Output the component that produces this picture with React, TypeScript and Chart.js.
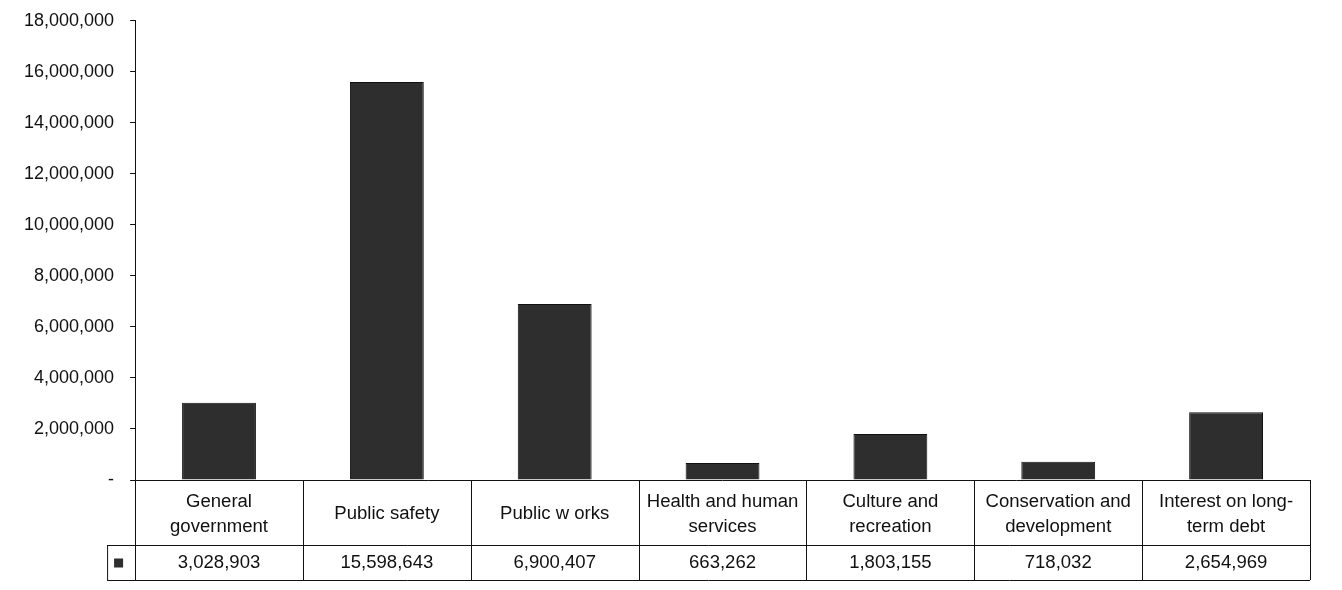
import React, { useEffect, useRef } from "react";
import { Chart, registerables } from "chart.js";

Chart.register(...registerables);

const categories: string[][] = [
  ["General", "government"],
  ["Public safety"],
  ["Public w orks"],
  ["Health and human", "services"],
  ["Culture and", "recreation"],
  ["Conservation and", "development"],
  ["Interest on long-", "term debt"],
];
const expenses: number[] = [3028903, 15598643, 6900407, 663262, 1803155, 718032, 2654969];
const yTicks: number[] = [0, 2000000, 4000000, 6000000, 8000000, 10000000, 12000000, 14000000, 16000000, 18000000];

const FONT = "'Liberation Sans', Arial, sans-serif";
const fmt = (v: number) => v.toLocaleString("en-US");

const tablePlugin = {
  id: "dataTable",
  afterDraw(chart: any) {
    const { ctx, chartArea } = chart;
    const { left, right, bottom } = chartArea;
    const n = categories.length;
    const colW = (right - left) / n;
    const row1 = 65;
    const row2 = 35;
    const legendW = 28;
    ctx.save();
    ctx.strokeStyle = "#111";
    ctx.lineWidth = 1;
    ctx.beginPath();
    ctx.moveTo(left, bottom + 0.5);
    ctx.lineTo(right, bottom + 0.5);
    ctx.moveTo(left - legendW, bottom + row1 + 0.5);
    ctx.lineTo(right, bottom + row1 + 0.5);
    ctx.moveTo(left - legendW, bottom + row1 + row2 + 0.5);
    ctx.lineTo(right, bottom + row1 + row2 + 0.5);
    for (let i = 0; i <= n; i++) {
      const x = Math.round(left + i * colW) + 0.5;
      ctx.moveTo(x, bottom);
      ctx.lineTo(x, bottom + row1 + row2);
    }
    ctx.moveTo(left - legendW + 0.5, bottom + row1);
    ctx.lineTo(left - legendW + 0.5, bottom + row1 + row2);
    ctx.stroke();

    // legend key
    ctx.fillStyle = "#2e2e2e";
    ctx.fillRect(left - legendW + 7, bottom + row1 + row2 / 2 - 4, 9, 9);

    ctx.fillStyle = "#111";
    ctx.font = `18px ${FONT}`;
    ctx.textAlign = "center";
    ctx.textBaseline = "middle";
    const sx = 1.03;
    const drawText = (t: string, x: number, y: number) => {
      ctx.save();
      ctx.translate(x, y);
      ctx.scale(sx, 1);
      ctx.fillText(t, 0, 0);
      ctx.restore();
    };
    categories.forEach((lines, i) => {
      const cx = left + (i + 0.5) * colW;
      const lh = 25;
      const startY = bottom + row1 / 2 + 2 - ((lines.length - 1) * lh) / 2;
      lines.forEach((ln, j) => drawText(ln, cx, startY + j * lh));
      drawText(fmt(expenses[i]), cx, bottom + row1 + row2 / 2 + 1);
    });
    ctx.restore();
  },
};

export default function App() {
  const ref = useRef<HTMLCanvasElement | null>(null);
  useEffect(() => {
    if (!ref.current) return;
    const chart = new Chart(ref.current, {
      type: "bar",
      data: {
        labels: categories.map((c) => c.join(" ")),
        datasets: [
          {
            label: "Expenses",
            data: expenses,
            backgroundColor: "#2e2e2e",
            borderColor: "#111",
            borderWidth: 1,
            barPercentage: 0.88,
            categoryPercentage: 0.5,
          },
        ],
      },
      options: {
        animation: false,
        responsive: true,
        maintainAspectRatio: false,
        layout: { padding: { top: 0, right: 24, bottom: 102, left: 0 } },
        plugins: { legend: { display: false }, tooltip: { enabled: false } },
        scales: {
          x: { display: false },
          y: {
            min: 0,
            max: 18000000,
            afterBuildTicks: (axis: any) => {
              axis.ticks = yTicks.map((v) => ({ value: v }));
            },
            ticks: {
              color: "#111",
              font: { family: FONT, size: 18 },
              padding: 16,
              callback: (v: any) => (Number(v) === 0 ? "-" : fmt(Number(v))),
            },
            grid: { drawOnChartArea: false, drawTicks: true, tickLength: 5, color: "#111" },
            border: { display: true, color: "#111", width: 1 },
          },
        },
      },
      plugins: [tablePlugin],
    });
    return () => chart.destroy();
  }, []);
  return (
    <div style={{ width: 1326, height: 588, marginTop: -14, position: "relative" }}>
      <canvas ref={ref} />
    </div>
  );
}
